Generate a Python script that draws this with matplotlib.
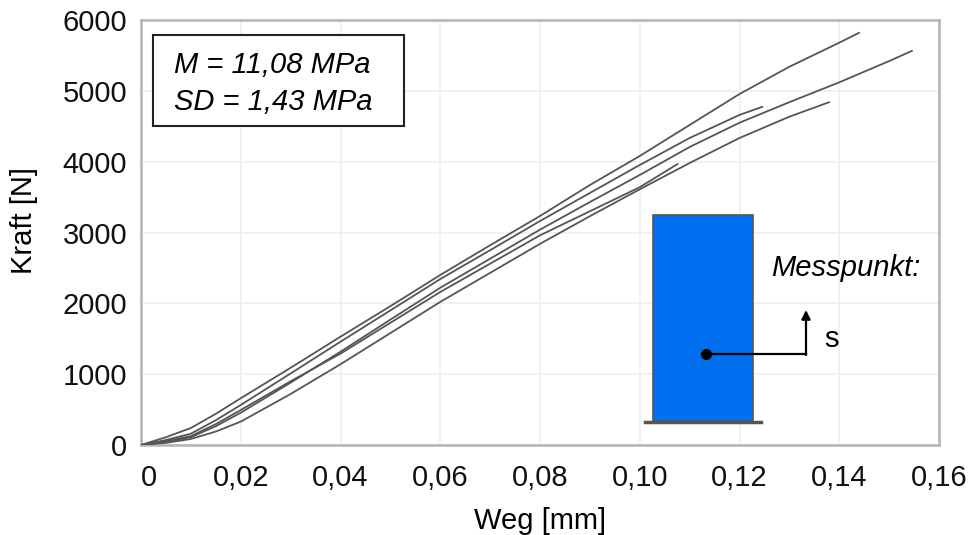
#!/usr/bin/env python3
import matplotlib
matplotlib.use("Agg")
import matplotlib.pyplot as plt
from matplotlib.patches import Rectangle

plt.rcParams["font.family"] = ["Liberation Sans", "DejaVu Sans"]

W, H = 972, 535
AX_L, AX_R, AX_T, AX_B = 141, 939, 20, 445
FS = 21

xticks = [0, 0.02, 0.04, 0.06, 0.08, 0.10, 0.12, 0.14, 0.16]
xlabels = ["0", "0,02", "0,04", "0,06", "0,08", "0,10", "0,12", "0,14", "0,16"]
yticks = [0, 1000, 2000, 3000, 4000, 5000, 6000]

# curves: displacement [mm], force [N]
x_a = [0, 0.005, 0.01, 0.015, 0.02, 0.03, 0.04, 0.05, 0.06, 0.07, 0.08, 0.09, 0.10, 0.11, 0.12, 0.13, 0.14, 0.144]
y_a = [0, 110, 240, 440, 660, 1090, 1529, 1960, 2400, 2820, 3233, 3670, 4080, 4518, 4955, 5340, 5680, 5820]
x_d = [0, 0.005, 0.01, 0.015, 0.02, 0.03, 0.04, 0.05, 0.06, 0.07, 0.08, 0.09, 0.10, 0.11, 0.12, 0.1246]
y_d = [0, 70, 160, 350, 565, 1010, 1458, 1900, 2343, 2750, 3162, 3558, 3953, 4334, 4660, 4775]
x_b = [0, 0.005, 0.01, 0.015, 0.02, 0.03, 0.04, 0.05, 0.06, 0.07, 0.08, 0.09, 0.10, 0.11, 0.12, 0.13, 0.14, 0.15, 0.1546]
y_b = [0, 45, 110, 265, 456, 880, 1317, 1770, 2220, 2630, 3040, 3430, 3812, 4207, 4550, 4840, 5120, 5420, 5565]
x_e = [0, 0.005, 0.01, 0.015, 0.02, 0.03, 0.04, 0.05, 0.06, 0.07, 0.08, 0.09, 0.10, 0.1076]
y_e = [0, 55, 125, 295, 494, 900, 1290, 1725, 2160, 2560, 2960, 3300, 3640, 3967]
x_c = [0, 0.005, 0.01, 0.015, 0.02, 0.03, 0.04, 0.05, 0.06, 0.07, 0.08, 0.09, 0.10, 0.11, 0.12, 0.13, 0.138]
y_c = [0, 30, 85, 190, 330, 720, 1140, 1580, 2020, 2430, 2840, 3230, 3610, 3981, 4334, 4635, 4840]


def px(x, y):
    # picture pixel -> axes fraction, for the hand-placed annotations
    return (x - AX_L) / (AX_R - AX_L), (AX_B - y) / (AX_B - AX_T)


def main():
    fig = plt.figure(figsize=(W / 100, H / 100), dpi=100)
    ax = fig.add_axes([AX_L / W, 1 - AX_B / H, (AX_R - AX_L) / W, (AX_B - AX_T) / H])

    for xs, ys in [(x_a, y_a), (x_d, y_d), (x_b, y_b), (x_e, y_e), (x_c, y_c)]:
        ax.plot(xs, ys, color="#555555", linewidth=1.3, solid_capstyle="round",
                solid_joinstyle="round", zorder=3)

    ax.set_xlim(0, 0.16)
    ax.set_ylim(0, 6000)
    ax.set_xticks(xticks, xlabels)
    ax.set_yticks(yticks)
    ax.tick_params(length=0, labelsize=FS, colors="#111111")
    ax.tick_params(axis="x", pad=13.5)
    ax.tick_params(axis="y", pad=10)
    ax.get_xticklabels()[0].set_ha("left")
    ax.grid(color="#f0f0f0", linewidth=1.3)
    ax.set_axisbelow(True)
    for s in ax.spines.values():
        s.set_color("#b4b4b4")
        s.set_linewidth(1.8)
    ax.set_xlabel("Weg [mm]", fontsize=FS, va="center")
    ax.set_ylabel("Kraft [N]", fontsize=FS, va="center")
    ax.xaxis.set_label_coords(*px(540, 521))
    ax.yaxis.set_label_coords(*px(24, 220))

    # value box
    x0, y0 = px(153, 126)
    x1, y1 = px(404, 35)
    ax.add_patch(Rectangle((x0, y0), x1 - x0, y1 - y0, transform=ax.transAxes,
                           facecolor="white", edgecolor="#222222", linewidth=1.5, zorder=4))
    ax.text(*px(174, 65), "M = 11,08 MPa", transform=ax.transAxes, fontsize=FS,
            style="italic", va="center", zorder=5)
    ax.text(*px(174, 102), "SD = 1,43 MPa", transform=ax.transAxes, fontsize=FS,
            style="italic", va="center", zorder=5)

    # specimen sketch
    x0, y0 = px(653, 421)
    x1, y1 = px(753, 215)
    ax.add_patch(Rectangle((x0, y0), x1 - x0, y1 - y0, transform=ax.transAxes,
                           facecolor="#0070f0", edgecolor="#555555", linewidth=1.2, zorder=4))
    ax.plot(*zip(px(645, 422), px(761, 422)), transform=ax.transAxes, color="#555555",
            linewidth=2.5, zorder=5)
    ax.plot(*zip(px(706, 354), px(806, 354)), transform=ax.transAxes, color="black",
            linewidth=1.6, zorder=5)
    ax.plot(*px(706, 354), "o", transform=ax.transAxes, color="black", markersize=7, zorder=6)
    ax.annotate("", xy=px(806, 310), xytext=px(806, 355), xycoords="axes fraction",
                textcoords="axes fraction",
                arrowprops=dict(arrowstyle="-|>", color="black", lw=1.6, shrinkA=0, shrinkB=0,
                                mutation_scale=13), zorder=6)
    ax.text(*px(824, 339), "s", transform=ax.transAxes, fontsize=FS, va="center", zorder=5)
    ax.text(*px(771, 268), "Messpunkt:", transform=ax.transAxes, fontsize=FS,
            style="italic", va="center", zorder=5)

    fig.savefig("out.png", dpi=100)


if __name__ == "__main__":
    main()
